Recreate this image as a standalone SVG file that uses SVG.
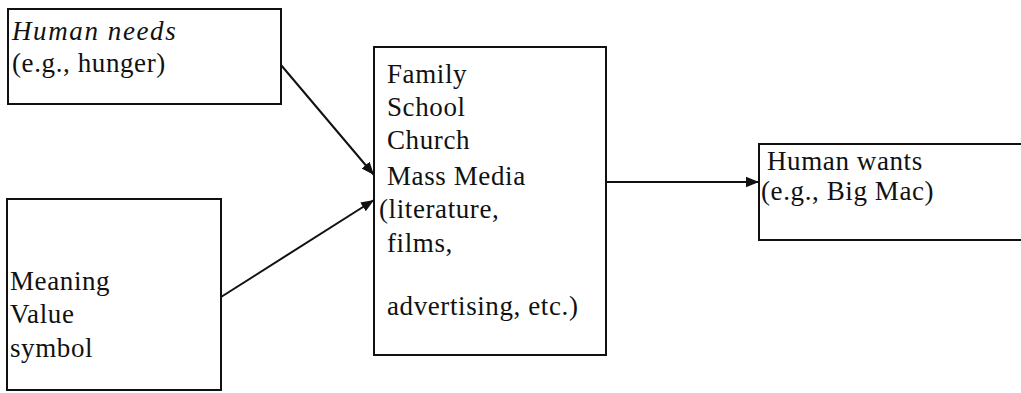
<svg xmlns="http://www.w3.org/2000/svg" width="1021" height="393" viewBox="0 0 1021 393">
<style>
.box{fill:#fff;stroke:#111;stroke-width:2}
.t{font-family:"Liberation Serif","Times New Roman",serif;font-size:27px;fill:#111;letter-spacing:0.6px}
.it{font-style:italic;letter-spacing:1.6px}
.c{stroke:#111;stroke-width:2;fill:none}
</style>
<defs>
<marker id="ah" viewBox="0 0 10 10" refX="10" refY="5" markerWidth="6.5" markerHeight="6.5" orient="auto" markerUnits="strokeWidth">
<path d="M0,1 L10,5 L0,9 z" fill="#111"/>
</marker>
</defs>
<rect width="1021" height="393" fill="#fff"/>
<g id="needs">
<rect class="box" x="8" y="9" width="273" height="95"/>
<text class="t it" x="12" y="40">Human needs</text>
<text class="t" x="12" y="72">(e.g., hunger)</text>
</g>
<g id="meaning">
<rect class="box" x="7" y="199" width="214" height="191"/>
<text class="t" x="10" y="290">Meaning</text>
<text class="t" x="10" y="323">Value</text>
<text class="t" x="10" y="357">symbol</text>
</g>
<g id="agents">
<rect class="box" x="374" y="47" width="232" height="308"/>
<text class="t" x="387" y="83">Family</text>
<text class="t" x="387" y="116">School</text>
<text class="t" x="387" y="149">Church</text>
<text class="t" x="387" y="185">Mass Media</text>
<text class="t" x="379" y="218">(literature,</text>
<text class="t" x="387" y="252">films,</text>
<text class="t" x="387" y="315">advertising, etc.)</text>
</g>
<g id="wants">
<rect class="box" x="759" y="144" width="270" height="96"/>
<text class="t" x="767" y="170">Human wants</text>
<text class="t" x="761" y="200">(e.g., Big Mac)</text>
</g>
<g id="connectors">
<line class="c" x1="281" y1="65" x2="374" y2="175" marker-end="url(#ah)"/>
<line class="c" x1="221" y1="297" x2="374" y2="200" marker-end="url(#ah)"/>
<line class="c" x1="606" y1="182" x2="759" y2="182" marker-end="url(#ah)"/>
</g>
</svg>
